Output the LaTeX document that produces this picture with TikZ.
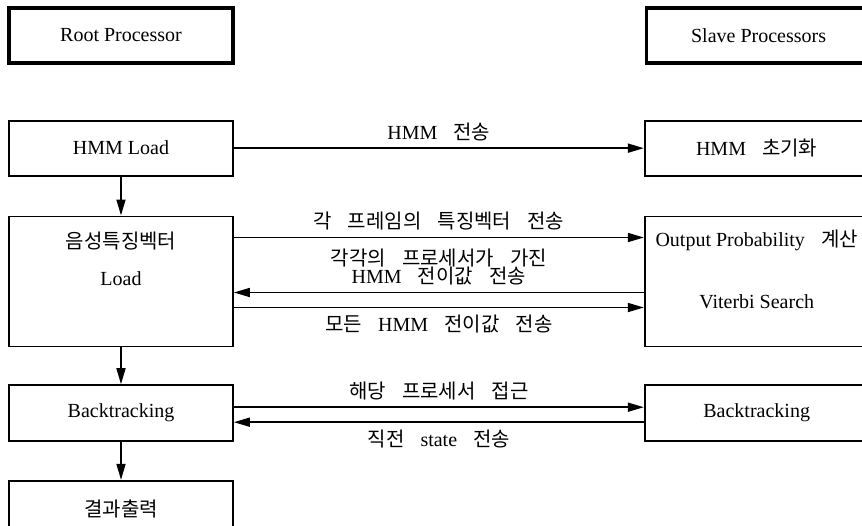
\documentclass[tikz,border=0pt]{standalone}
\usepackage{fontspec}
\setmainfont{Liberation Serif}
\newfontfamily\kr[WordSpace=3.6]{Noto Sans CJK KR}
\newcommand{\ko}[1]{{\kr #1}}
\usetikzlibrary{arrows.meta, positioning}
\tikzset{%
	proc/.style={draw, rectangle, line width=0.85pt, minimum width=112pt,%
		minimum height=27.5pt, inner sep=0pt},
	title/.style={proc, line width=1.8pt},
	msg/.style={-{Triangle[length=8pt,width=4.5pt]}, line width=0.85pt},
	tall/.style={minimum height=65pt},
	low/.style={minimum height=28pt}
}

\begin{document}
\begin{tikzpicture}
	\useasboundingbox (0,0) rectangle (431pt,-262.5pt);
	\node[title] (root) at (60.5pt,-17.75pt) {Root Processor};
	\node[title, right=205pt of root] (slave) {Slave Processors};
	\node[proc, below=27.5pt of root] (hmm) {HMM Load};
	\node[proc, right=205pt of hmm] (init) {HMM\ko{ 초기화}};
	\node[proc, tall, below=19.5pt of hmm] (feat) {};
	\node[proc, tall, right=205pt of feat] (vit) {};
	\node[proc, low, below=18.5pt of feat] (back) {Backtracking};
	\node[proc, low, right=205pt of back] (rback) {Backtracking};
	\node[proc, low, below=19pt of back] (out) {\ko{결과출력}};

	\node (featname) at ([yshift=-13pt]feat.north) {\ko{음성특징벡터}};
	\node (featload) at ([yshift=-31.5pt]feat.north) {Load};
	\node (vitout) at ([yshift=-12.5pt]vit.north) {Output Probability\ko{ 계산}};
	\node (vitsearch) at ([yshift=-43pt]vit.north) {Viterbi Search};

	\draw[msg] (hmm) to node[above]{HMM\ko{ 전송}} (init);
	\draw[msg] ([yshift=-11pt]feat.north east) to node[above]{\ko{각 프레임의 특징벡터 전송}} ([yshift=-11pt]vit.north west);
	\draw[msg] ([yshift=-38.5pt]vit.north west) to node[above, align=center]{\ko{각각의 프로세서가 가진}\\[-3pt]HMM\ko{ 전이값 전송}} ([yshift=-38.5pt]feat.north east);
	\draw[msg] ([yshift=-46pt]feat.north east) to node[below]{\ko{모든 }HMM\ko{ 전이값 전송}} ([yshift=-46pt]vit.north west);
	\draw[msg] ([yshift=-11.5pt]back.north east) to node[above]{\ko{해당 프로세서 접근}} ([yshift=-11.5pt]rback.north west);
	\draw[msg] ([yshift=-19pt]rback.north west) to node[below]{\ko{직전 }state\ko{ 전송}} ([yshift=-19pt]back.north east);

	\draw[msg] (hmm) to (feat);
	\draw[msg] (feat) to (back);
	\draw[msg] (back) to (out);
\end{tikzpicture}
\end{document}
